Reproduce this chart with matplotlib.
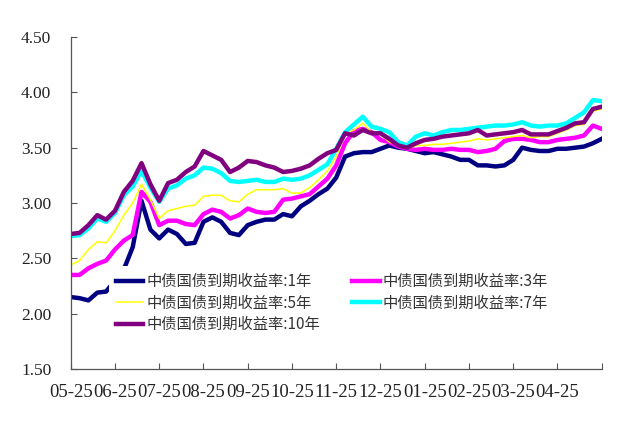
import numpy as np
import matplotlib.pyplot as plt
plt.switch_backend('agg')

# month offsets from 05-25, sampled every 0.2 month
months = np.arange(61) * 0.2
tick_labels = ["05-25", "06-25", "07-25", "08-25", "09-25", "10-25",
               "11-25", "12-25", "01-25", "02-25", "03-25", "04-25", ""]

y1 = [2.15, 2.14, 2.12, 2.19, 2.20, 2.30, 2.40, 2.60, 3.02, 2.76,
      2.68, 2.76, 2.72, 2.63, 2.64, 2.83, 2.87, 2.83, 2.73, 2.71,
      2.80, 2.83, 2.85, 2.85, 2.90, 2.88, 2.97, 3.02, 3.08, 3.13,
      3.23, 3.42, 3.45, 3.46, 3.46, 3.49, 3.52, 3.50, 3.49, 3.47,
      3.45, 3.46, 3.44, 3.42, 3.39, 3.39, 3.34, 3.34, 3.33, 3.34,
      3.39, 3.50, 3.48, 3.47, 3.47, 3.49, 3.49, 3.50, 3.51, 3.54, 3.58]
y3 = [2.35, 2.35, 2.41, 2.45, 2.48, 2.58, 2.66, 2.71, 3.10, 3.01,
      2.80, 2.84, 2.84, 2.81, 2.80, 2.90, 2.94, 2.92, 2.86, 2.89,
      2.95, 2.92, 2.91, 2.92, 3.03, 3.04, 3.06, 3.08, 3.15, 3.22,
      3.34, 3.54, 3.65, 3.67, 3.64, 3.57, 3.55, 3.51, 3.49, 3.48,
      3.49, 3.48, 3.48, 3.49, 3.48, 3.48, 3.46, 3.47, 3.49, 3.56,
      3.58, 3.58, 3.57, 3.55, 3.55, 3.57, 3.58, 3.59, 3.61, 3.70, 3.67]
y5 = [2.44, 2.48, 2.58, 2.65, 2.64, 2.75, 2.89, 3.00, 3.17, 3.03,
      2.86, 2.93, 2.95, 2.97, 2.98, 3.06, 3.07, 3.07, 3.02, 3.01,
      3.08, 3.12, 3.12, 3.12, 3.13, 3.09, 3.09, 3.14, 3.21, 3.29,
      3.42, 3.63, 3.66, 3.72, 3.64, 3.62, 3.55, 3.53, 3.49, 3.52,
      3.52, 3.53, 3.53, 3.54, 3.55, 3.56, 3.58, 3.57, 3.58, 3.59,
      3.60, 3.61, 3.59, 3.60, 3.60, 3.63, 3.66, 3.70, 3.71, 3.83, 3.85]
y7 = [2.70, 2.71, 2.77, 2.86, 2.83, 2.91, 3.07, 3.15, 3.29, 3.14,
      3.01, 3.13, 3.16, 3.22, 3.25, 3.32, 3.31, 3.27, 3.20, 3.19,
      3.20, 3.21, 3.19, 3.19, 3.22, 3.21, 3.22, 3.25, 3.30, 3.35,
      3.49, 3.64, 3.71, 3.78, 3.69, 3.67, 3.64, 3.55, 3.52, 3.60,
      3.63, 3.61, 3.64, 3.66, 3.66, 3.67, 3.68, 3.69, 3.70, 3.70,
      3.71, 3.73, 3.70, 3.69, 3.70, 3.70, 3.72, 3.77, 3.82, 3.93, 3.92]
y10 = [2.72, 2.73, 2.80, 2.89, 2.85, 2.93, 3.10, 3.20, 3.36, 3.17,
       3.02, 3.18, 3.21, 3.28, 3.33, 3.47, 3.43, 3.39, 3.28, 3.32,
       3.38, 3.37, 3.34, 3.32, 3.28, 3.29, 3.31, 3.34, 3.40, 3.45,
       3.48, 3.63, 3.61, 3.66, 3.63, 3.63, 3.58, 3.52, 3.50, 3.54,
       3.57, 3.58, 3.60, 3.61, 3.62, 3.63, 3.66, 3.61, 3.62, 3.63,
       3.64, 3.66, 3.62, 3.62, 3.62, 3.65, 3.68, 3.72, 3.73, 3.85, 3.87]

series = [
    ("中债国债到期收益率:1年", y1, "#000080", 3.2),
    ("中债国债到期收益率:3年", y3, "#FF00FF", 3.2),
    ("中债国债到期收益率:5年", y5, "#FFFF00", 1.1),
    ("中债国债到期收益率:7年", y7, "#00FFFF", 3.2),
    ("中债国债到期收益率:10年", y10, "#800080", 3.2),
]

fig = plt.figure(figsize=(6.27, 4.34), dpi=100)
ax = fig.add_axes([0.1128, 0.1498, 0.8469, 0.7649])

lines = []
for name, vals, color, lw in series:
    ln, = ax.plot(months, vals, color=color, lw=lw, label=name, solid_joinstyle='round')
    lines.append(ln)

ax.set_xlim(0, 12)
ax.set_ylim(1.5, 4.5)
ax.set_xticks(np.arange(13))
ax.set_xticklabels(tick_labels)
ax.set_yticks(np.arange(1.5, 4.51, 0.5))
ax.set_yticklabels(["%.2f" % v for v in np.arange(1.5, 4.51, 0.5)])

for s in ["top", "right"]:
    ax.spines[s].set_visible(False)
for s in ["left", "bottom"]:
    ax.spines[s].set_color("#555555")
    ax.spines[s].set_linewidth(0.9)

ax.tick_params(axis="both", direction="in", length=4, width=0.8, color="#555555",
               labelcolor="#222222")
ax.tick_params(axis="y", pad=14)
ax.tick_params(axis="x", pad=11)
for lab in ax.get_yticklabels():
    lab.set_fontfamily("Liberation Serif")
    lab.set_fontsize(12.5)
for lab in ax.get_xticklabels():
    lab.set_fontfamily("Liberation Serif")
    lab.set_fontsize(13.5)

# legend rows read 1Y/3Y, 5Y/7Y, 10Y; matplotlib fills column by column
order = [0, 2, 4, 1, 3]
leg = ax.legend([lines[i] for i in order], [series[i][0] for i in order],
                ncol=2, loc="upper left", bbox_to_anchor=(109 / 627, 1 - 266 / 434),
                bbox_transform=fig.transFigure, frameon=True, facecolor="white",
                edgecolor="none", framealpha=1, fancybox=False,
                prop={"family": ["Noto Sans CJK SC", "DejaVu Sans"], "size": 11},
                handlelength=1.8, handletextpad=0.2, columnspacing=2.1,
                labelspacing=0.3, borderpad=0.45, borderaxespad=0)
for t in leg.get_texts():
    t.set_color("#333333")

fig.savefig("out.png", dpi=100, facecolor="white")
